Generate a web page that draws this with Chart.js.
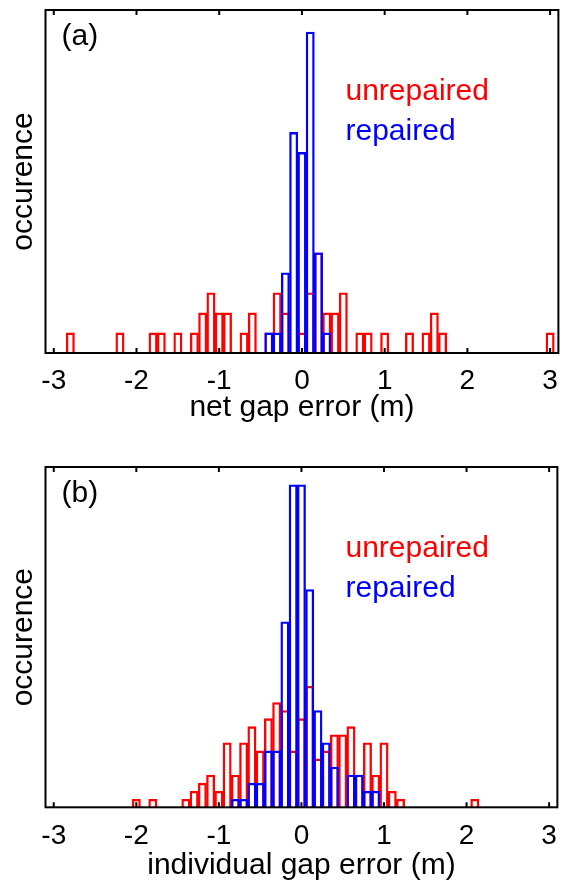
<!DOCTYPE html>
<html><head><meta charset="utf-8">
<script src="https://cdn.jsdelivr.net/npm/chart.js@4.4.1/dist/chart.umd.min.js"></script>
<style>
html,body{margin:0;padding:0;background:#fff;width:569px;height:886px;overflow:hidden}
canvas{position:absolute;left:0}
#ca{top:0}#cb{top:443px}
</style></head>
<body>
<canvas id="ca" width="569" height="443"></canvas>
<canvas id="cb" width="569" height="443"></canvas>
<script>
// ---- data ----
const xTicks = [-3, -2, -1, 0, 1, 2, 3];
const xTickLabels = ['-3', '-2', '-1', '0', '1', '2', '3'];
const xRange = [-3.1, 3.1];

// panel (a): net gap error, bin centres (m) and counts
const netUnrepairedX = [-2.8,-2.2,-1.8,-1.7,-1.5,-1.3,-1.2,-1.1,-1.0,-0.9,-0.7,-0.6,-0.4,-0.3,-0.2,0.0,0.1,0.2,0.3,0.4,0.5,0.7,0.8,1.0,1.3,1.5,1.6,1.7,3.0];
const netUnrepairedN = [1,1,1,1,1,1,2,3,2,2,1,2,1,3,2,1,3,5,2,2,3,1,1,1,1,1,2,1,1];
const netRepairedX   = [-0.4,-0.3,-0.2,-0.1,0.0,0.1,0.2,0.3];
const netRepairedN   = [1,1,4,11,10,16,5,1];
const netYMax = 17.1;

// panel (b): individual gap error
const indUnrepairedX = [-2.0,-1.8,-1.4,-1.3,-1.2,-1.1,-1.0,-0.9,-0.8,-0.7,-0.6,-0.5,-0.4,-0.3,-0.2,-0.1,0.0,0.1,0.2,0.3,0.4,0.5,0.6,0.7,0.8,0.9,1.0,1.1,1.2,2.1];
const indUnrepairedN = [1,1,1,2,3,4,2,8,4,8,10,7,11,13,12,7,11,15,6,7,9,9,10,4,8,4,8,2,1,1];
const indRepairedX   = [-0.8,-0.7,-0.6,-0.5,-0.4,-0.3,-0.2,-0.1,0.0,0.1,0.2,0.3,0.4,0.6,0.7,0.8,0.9];
const indRepairedN   = [1,1,3,3,7,7,23,40,40,27,12,8,5,4,4,2,2];
const indYMax = 42.2;

const FONT = '"Liberation Sans", Arial, Helvetica, sans-serif';
const RED = '#ff0000', BLUE = '#0000ff';

const framePlugin = {
  id: 'frame',
  afterDatasetsDraw(chart, args, opts) {
    const {ctx, chartArea: a, scales: {x}} = chart;
    ctx.save();
    ctx.strokeStyle = '#000';
    ctx.lineWidth = 2;
    ctx.strokeRect(a.left, a.top, a.right - a.left, a.bottom - a.top);
    ctx.beginPath();
    for (const t of x.ticks) {
      const px = x.getPixelForValue(t.value);
      ctx.moveTo(px, a.bottom); ctx.lineTo(px, a.bottom - 5);
      ctx.moveTo(px, a.top); ctx.lineTo(px, a.top + 5);
    }
    ctx.stroke();
    ctx.font = '30px ' + FONT;
    ctx.textAlign = 'left';
    ctx.textBaseline = 'alphabetic';
    ctx.fillStyle = '#000';
    ctx.fillText(opts.tag, a.left + 16, a.top + 35);
    ctx.fillStyle = RED;
    ctx.fillText('unrepaired', a.left + 300, a.top + 90);
    ctx.fillStyle = BLUE;
    ctx.fillText('repaired', a.left + 300, a.top + 130);
    ctx.restore();
  }
};

function pts(xs, ns) { return xs.map((v, i) => ({x: v, y: ns[i]})); }

function makeChart(id, p) {
  const common = {grouped: false, barPercentage: 1, categoryPercentage: 1,
                  backgroundColor: 'rgba(0,0,0,0)', borderWidth: 1.7, borderSkipped: 'start'};
  return new Chart(document.getElementById(id), {
    type: 'bar',
    data: {
      datasets: [
        Object.assign({label: 'unrepaired', data: pts(p.ux, p.un), borderColor: RED, order: 2}, common),
        Object.assign({label: 'repaired', data: pts(p.rx, p.rn), borderColor: BLUE, order: 1}, common)
      ]
    },
    options: {
      responsive: false, animation: false, devicePixelRatio: 1, events: [],
      layout: {padding: {top: p.top, right: 6, left: 0, bottom: 0}},
      plugins: {legend: {display: false}, tooltip: {enabled: false}, frame: {tag: p.tag}},
      scales: {
        x: {
          type: 'linear', min: xRange[0], max: xRange[1], offset: false,
          afterBuildTicks: s => { s.ticks = xTicks.map(v => ({value: v})); },
          ticks: {callback: (v, i) => xTickLabels[i], font: {family: FONT, size: 28}, color: '#000',
                  padding: p.tickPad, maxRotation: 0, autoSkip: false},
          grid: {display: false, drawTicks: false}, border: {display: false},
          title: {display: true, text: p.xlabel, font: {family: FONT, size: 30}, color: '#000',
                  padding: {top: 0, bottom: p.titlePad}},
          afterFit: s => { s.height = p.xh; }
        },
        y: {
          type: 'linear', min: 0, max: p.ymax,
          ticks: {display: false}, grid: {display: false, drawTicks: false}, border: {display: false},
          title: {display: true, text: 'occurence', font: {family: FONT, size: 30}, color: '#000',
                  padding: {top: 6, bottom: 0}},
          afterFit: s => { s.width = 45.5; }
        }
      }
    },
    plugins: [framePlugin]
  });
}

makeChart('ca', {ux: netUnrepairedX, un: netUnrepairedN, rx: netRepairedX, rn: netRepairedN,
  ymax: netYMax, tag: '(a)', xlabel: 'net gap error (m)', top: 10, xh: 90, tickPad: 11, titlePad: 17});
makeChart('cb', {ux: indUnrepairedX, un: indUnrepairedN, rx: indRepairedX, rn: indRepairedN,
  ymax: indYMax, tag: '(b)', xlabel: 'individual gap error (m)', top: 24, xh: 78.7, tickPad: 12, titlePad: 2});
</script>
</body></html>
